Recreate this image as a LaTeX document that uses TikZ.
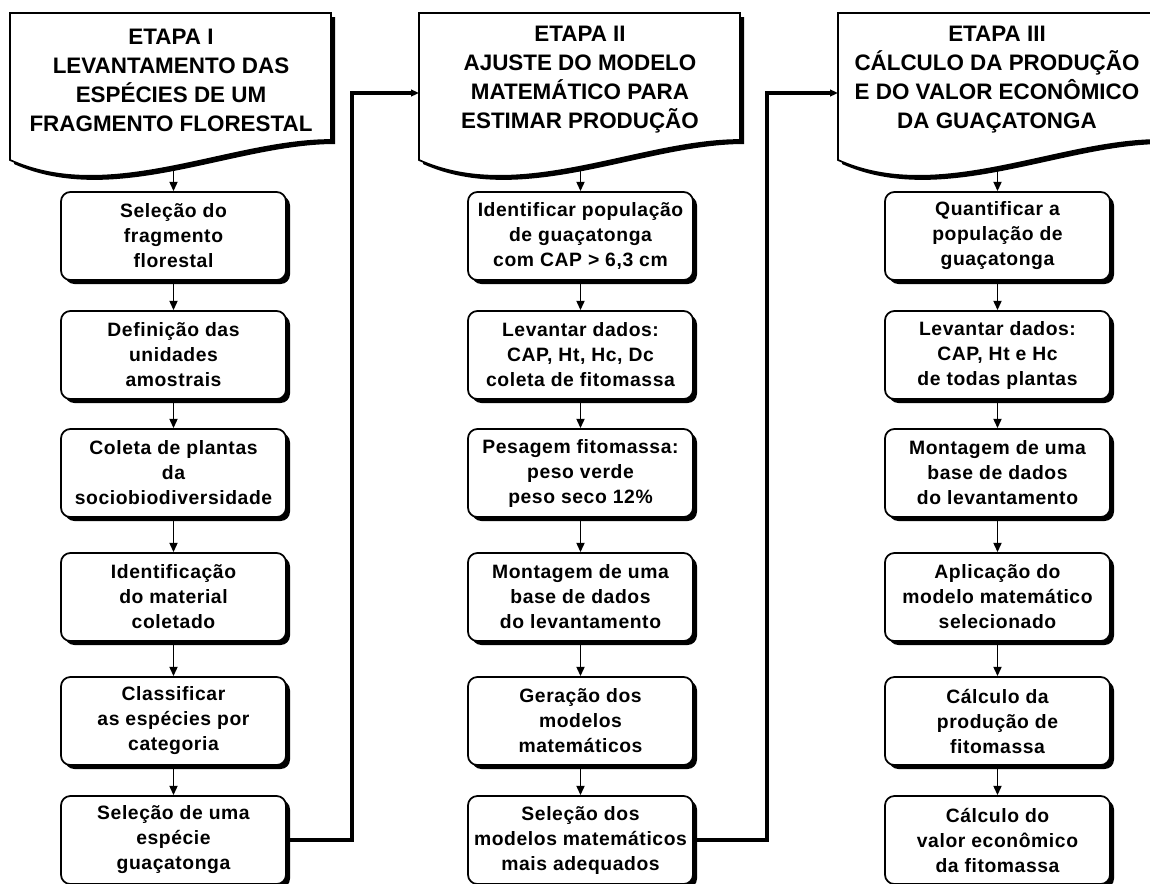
\documentclass[tikz,border=0pt]{standalone}
\usepackage{fontspec}
\setmainfont{Liberation Sans}
\newfontfamily\boxfont[LetterSpace=3.0]{Liberation Sans}
\usetikzlibrary{arrows.meta,shadows}
\begin{document}
\begin{tikzpicture}[x=0.75pt,y=-0.75pt,
  shd/.style={preaction={draw=none,fill=black,transform canvas={shift={(3pt,-3pt)}}}},
  stepbox/.style={draw=black,line width=1.3pt,fill=white,rounded corners=7pt,
    minimum width=168.75pt,minimum height=66pt,inner sep=0pt,align=center,
    font=\boxfont\bfseries\fontsize{14.5pt}{18.75pt}\selectfont,shd},
  hdr/.style={draw=black,line width=1.3pt,fill=white,shd},
  hdrtext/.style={align=center,inner sep=0pt,
    font=\bfseries\fontsize{16.8pt}{21.75pt}\selectfont},
  varr/.style={draw=black,line width=1.4pt,-{Triangle[length=7pt,width=6pt]}},
  elbow/.style={draw=black,line width=2.6pt,-{Triangle[length=6pt,width=5pt]}}
]
\useasboundingbox[fill=white] (0,0) rectangle (1150,883);

% headers
\path[hdr] (10,13) -- (331,13) -- (331,140) .. controls (230,140) and (110,205) .. (10,160) -- cycle;
\path[hdr] (419,13) -- (740,13) -- (740,140) .. controls (639,140) and (519,205) .. (419,160) -- cycle;
\path[hdr] (838,13) -- (1159,13) -- (1159,140) .. controls (1058,140) and (938,205) .. (838,160) -- cycle;

\node[hdrtext] (h1) at (171,80) {ETAPA I\\LEVANTAMENTO DAS\\ESPÉCIES DE UM\\FRAGMENTO FLORESTAL};
\node[hdrtext] (h2) at (580,80) {ETAPA II\\AJUSTE DO MODELO\\MATEMÁTICO PARA\\ESTIMAR PRODUÇÃO};
\node[hdrtext] (h3) at (997,80) {ETAPA III\\CÁLCULO DA PRODUÇÃO\\E DO VALOR ECONÔMICO\\DA GUAÇATONGA};

\coordinate (h1b) at (173.5,167);
\coordinate (h2b) at (580.5,167);
\coordinate (h3b) at (997.5,167);
\coordinate (h2in) at (419,93);
\coordinate (h3in) at (838,93);
\coordinate (k1) at (352,93);
\coordinate (k2) at (767,93);

% column 1
\node[stepbox] (b11) at (173.5,236) {Seleção do\\fragmento\\florestal};
\node[stepbox] (b12) at (173.5,355) {Definição das\\unidades\\amostrais};
\node[stepbox] (b13) at (173.5,473) {Coleta de plantas\\da\\sociobiodiversidade};
\node[stepbox] (b14) at (173.5,597) {Identificação\\do material\\coletado};
\node[stepbox] (b15) at (173.5,721) {Classificar\\as espécies por\\categoria};
\node[stepbox] (b16) at (173.5,840) {Seleção de uma\\espécie\\guaçatonga};

% column 2
\node[stepbox] (b21) at (580.5,236) {Identificar população\\de guaçatonga\\com CAP > 6,3 cm};
\node[stepbox] (b22) at (580.5,355) {Levantar dados:\\CAP, Ht, Hc, Dc\\coleta de fitomassa};
\node[stepbox] (b23) at (580.5,473) {Pesagem fitomassa:\\peso verde\\peso seco 12\%};
\node[stepbox] (b24) at (580.5,597) {Montagem de uma\\base de dados\\do levantamento};
\node[stepbox] (b25) at (580.5,721) {Geração dos\\modelos\\matemáticos};
\node[stepbox] (b26) at (580.5,840) {Seleção dos\\modelos matemáticos\\mais adequados};

% column 3
\node[stepbox] (b31) at (997.5,236) {Quantificar a\\população de\\guaçatonga};
\node[stepbox] (b32) at (997.5,355) {Levantar dados:\\CAP, Ht e Hc\\de todas plantas};
\node[stepbox] (b33) at (997.5,473) {Montagem de uma\\base de dados\\do levantamento};
\node[stepbox] (b34) at (997.5,597) {Aplicação do\\modelo matemático\\selecionado};
\node[stepbox] (b35) at (997.5,721) {Cálculo da\\produção de\\fitomassa};
\node[stepbox] (b36) at (997.5,840) {Cálculo do\\valor econômico\\da fitomassa};

% vertical arrows
\draw[varr] (h1b) -- (b11);
\draw[varr] (b11) -- (b12);
\draw[varr] (b12) -- (b13);
\draw[varr] (b13) -- (b14);
\draw[varr] (b14) -- (b15);
\draw[varr] (b15) -- (b16);

\draw[varr] (h2b) -- (b21);
\draw[varr] (b21) -- (b22);
\draw[varr] (b22) -- (b23);
\draw[varr] (b23) -- (b24);
\draw[varr] (b24) -- (b25);
\draw[varr] (b25) -- (b26);

\draw[varr] (h3b) -- (b31);
\draw[varr] (b31) -- (b32);
\draw[varr] (b32) -- (b33);
\draw[varr] (b33) -- (b34);
\draw[varr] (b34) -- (b35);
\draw[varr] (b35) -- (b36);

% elbow connectors
\draw[elbow] (b16.east) -| (k1) -- (h2in);
\draw[elbow] (b26.east) -| (k2) -- (h3in);
\end{tikzpicture}
\end{document}
